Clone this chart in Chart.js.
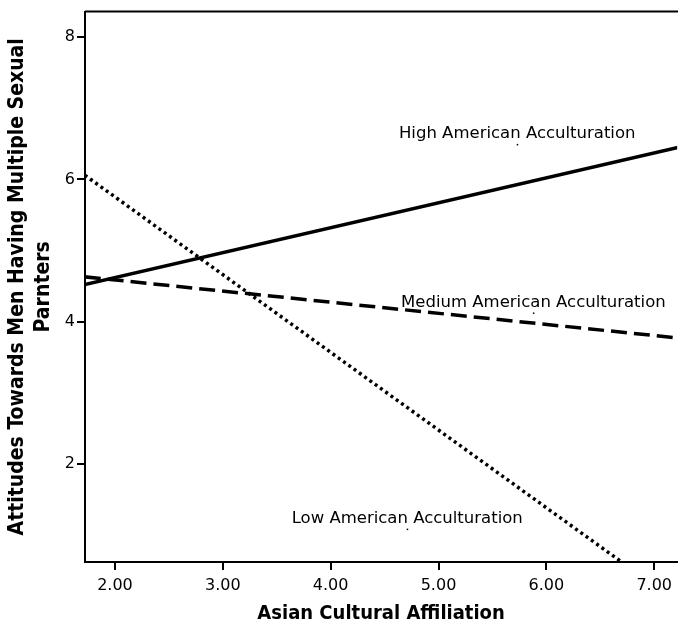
<!DOCTYPE html>
<html>
<head>
<meta charset="utf-8">
<script src="https://cdn.jsdelivr.net/npm/chart.js@4.4.1/dist/chart.umd.min.js"></script>
<style>
  html, body { margin: 0; padding: 0; background: #fff; }
  #wrap { width: 678px; height: 630px; }
</style>
</head>
<body>
<div id="wrap"><canvas id="graph"></canvas></div>
<script>
// line endpoints (x = Asian Cultural Affiliation)
const xEnds = [1.72, 7.22];
const highVals = [4.52, 6.45];
const mediumVals = [4.63, 3.77];
const lowVals = [6.06, 0.05];

const xTicks = [2, 3, 4, 5, 6, 7];
const yTicks = [2, 4, 6, 8];

const lineNames = ['High American Acculturation', 'Medium American Acculturation', 'Low American Acculturation'];
const labelX = [5.73, 5.88, 4.71];
const labelY = [6.64, 4.27, 1.23];

const pts = (vals) => xEnds.map((x, i) => ({ x: x, y: vals[i] }));

// text labels next to the lines + frame on top
const lineLabels = {
    id: 'lineLabels',
    afterDraw(chart) {
        const c = chart.ctx;
        const xs = chart.scales.x, ys = chart.scales.y;
        const a = chart.chartArea;
        c.save();
        c.strokeStyle = '#000';
        c.lineWidth = 2;
        c.beginPath();
        c.moveTo(a.left, a.top);
        c.lineTo(a.right + 2, a.top);
        c.stroke();
        c.font = '16.5px "DejaVu Sans"';
        c.fillStyle = '#000';
        c.textAlign = 'center';
        c.textBaseline = 'middle';
        lineNames.forEach((t, i) => {
            const px = xs.getPixelForValue(labelX[i]);
            const py = ys.getPixelForValue(labelY[i]);
            c.fillText(t, px, py);
            c.fillRect(px - 0.5, py + 10, 1.5, 1.5);
        });
        c.restore();
    }
};

var ctx = document.getElementById('graph').getContext('2d');
var myChart = new Chart(ctx, {
    type: 'line',
    data: {
        datasets: [{
            label: lineNames[0],
            data: pts(highVals),
            borderColor: '#000',
            borderWidth: 3.5,
            pointRadius: 0
        }, {
            label: lineNames[1],
            data: pts(mediumVals),
            borderColor: '#000',
            borderWidth: 3.5,
            borderDash: [16, 7],
            pointRadius: 0
        }, {
            label: lineNames[2],
            data: pts(lowVals),
            borderColor: '#000',
            borderWidth: 3.5,
            borderDash: [3, 3.5],
            pointRadius: 0
        }]
    },
    options: {
        responsive: true,
        maintainAspectRatio: false,
        animation: false,
        layout: { padding: { top: 8, right: 0, left: 0, bottom: 0 } },
        plugins: {
            legend: { display: false },
            tooltip: { enabled: false }
        },
        scales: {
            x: {
                type: 'linear',
                min: 1.722,
                max: 7.213,
                afterBuildTicks: (s) => { s.ticks = xTicks.map(v => ({ value: v })); },
                afterFit: (s) => { s.height = 68; },
                ticks: {
                    color: '#000',
                    font: { family: 'DejaVu Sans', size: 16 },
                    padding: 6,
                    maxRotation: 0,
                    callback: (v) => Number(v).toFixed(2)
                },
                grid: { drawOnChartArea: false, drawTicks: true, tickLength: 8, color: '#000', lineWidth: 2 },
                border: { display: true, color: '#000', width: 2 },
                title: {
                    display: true,
                    text: 'Asian Cultural Affiliation',
                    color: '#000',
                    font: { family: 'DejaVu Sans Condensed', size: 20, weight: 'bold' },
                    padding: { top: 0 }
                }
            },
            y: {
                min: 0.62,
                max: 8.36,
                afterBuildTicks: (s) => { s.ticks = yTicks.map(v => ({ value: v })); },
                afterFit: (s) => { s.width = 85; },
                ticks: {
                    color: '#000',
                    font: { family: 'DejaVu Sans', size: 16 },
                    padding: 2
                },
                grid: { drawOnChartArea: false, drawTicks: true, tickLength: 8, color: '#000', lineWidth: 2 },
                border: { display: true, color: '#000', width: 2 },
                title: {
                    display: true,
                    text: ['Attitudes Towards Men Having Multiple Sexual', 'Parnters'],
                    color: '#000',
                    font: { family: 'DejaVu Sans Condensed', size: 21, weight: 'bold', lineHeight: 1.25 },
                    padding: { top: 4, bottom: 0 }
                }
            }
        }
    },
    plugins: [lineLabels]
});
</script>
</body>
</html>
